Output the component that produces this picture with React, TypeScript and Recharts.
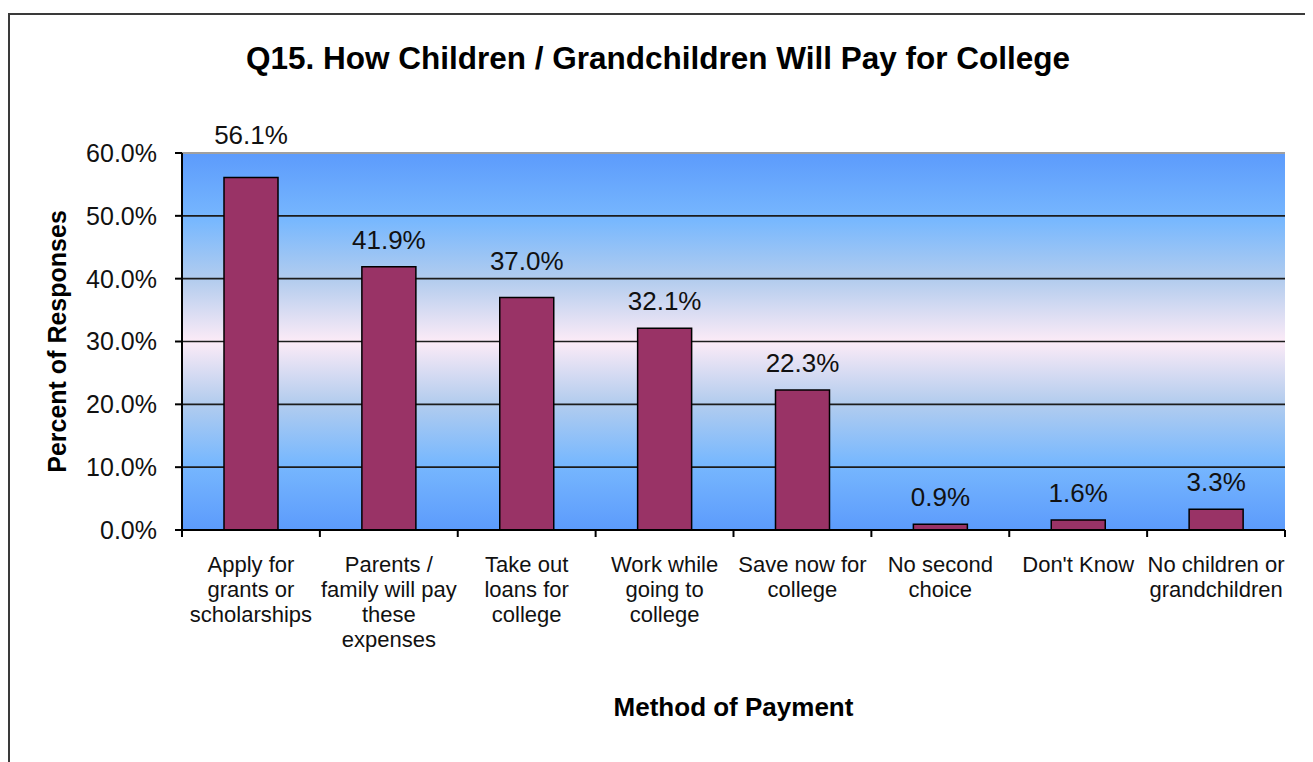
import React from 'react';
import { BarChart, Bar, XAxis, YAxis, CartesianGrid, LabelList, ReferenceLine } from 'recharts';

const categories: string[] = [
  'Apply for\ngrants or\nscholarships',
  'Parents /\nfamily will pay\nthese\nexpenses',
  'Take out\nloans for\ncollege',
  'Work while\ngoing to\ncollege',
  'Save now for\ncollege',
  'No second\nchoice',
  "Don't Know",
  'No children or\ngrandchildren',
];
const values: number[] = [56.1, 41.9, 37.0, 32.1, 22.3, 0.9, 1.6, 3.3];
const yTicks: number[] = [0, 10, 20, 30, 40, 50, 60];

const data = categories.map((c, i) => ({ name: c, value: values[i] }));

const FONT = '"Liberation Sans", Arial, Helvetica, sans-serif';
const W = 1300;
const H = 740;
const MARGIN = { top: 138, right: 25, bottom: 0, left: 0 };
const Y_AXIS_W = 172;
const X_AXIS_H = 225;
const Y_MAX = 60;
const PLOT_W = W - MARGIN.left - MARGIN.right - Y_AXIS_W;
const PLOT_H = H - MARGIN.top - MARGIN.bottom - X_AXIS_H;
const HALF_BAND = PLOT_W / categories.length / 2;
const PLOT_TOP = MARGIN.top;

const XTick = (props: any) => {
  const { x, y, payload, index } = props;
  const lines = String(payload.value).split('\n');
  const last = index === categories.length - 1;
  return (
    <g>
      <line x1={x - HALF_BAND} x2={x - HALF_BAND} y1={y} y2={y + 7} stroke="#000" strokeWidth={2} />
      {last && <line x1={x + HALF_BAND} x2={x + HALF_BAND} y1={y} y2={y + 7} stroke="#000" strokeWidth={2} />}
      <text x={x} y={y + 42} textAnchor="middle" fontSize={22} fill="#111" fontFamily={FONT}>
        {lines.map((l, i) => (
          <tspan key={i} x={x} dy={i === 0 ? 0 : 25}>
            {l}
          </tspan>
        ))}
      </text>
    </g>
  );
};

// Place label above bar; if it would cross a gridline, lift it above that gridline.
const ValueLabel = (props: any) => {
  const { x, y, width, value } = props;
  let base = y - 18;
  for (const t of yTicks) {
    const g = PLOT_TOP + PLOT_H * (1 - t / Y_MAX);
    if (base - 19 < g + 2 && base > g - 2) {
      base = g - 9;
      break;
    }
  }
  return (
    <text x={x + width / 2} y={base} textAnchor="middle" fontSize={26} fill="#111" fontFamily={FONT}>
      {Number(value).toFixed(1) + '%'}
    </text>
  );
};

const YLabel = (props: any) => {
  const vb = props.viewBox || {};
  const cx = 47;
  const cy = vb.y + vb.height / 2;
  return (
    <text
      x={cx}
      y={cy}
      transform={`rotate(-90, ${cx}, ${cy})`}
      textAnchor="middle"
      dominantBaseline="central"
      fontSize={25}
      fontWeight="bold"
      fill="#000"
      fontFamily={FONT}
    >
      Percent of Responses
    </text>
  );
};

const XLabel = (props: any) => {
  const vb = props.viewBox || {};
  const cx = vb.x + vb.width / 2;
  return (
    <text x={cx} y={vb.y + 186} textAnchor="middle" fontSize={26} fontWeight="bold" fill="#000" fontFamily={FONT}>
      Method of Payment
    </text>
  );
};

export default function App() {
  return (
    <div
      style={{
        position: 'relative',
        marginTop: 5,
        width: W,
        height: H + 10,
        borderLeft: '2px solid #3a3a3a',
        borderTop: '2px solid #3a3a3a',
        background: '#fff',
        fontFamily: FONT,
      }}
    >
      <style>{'html,body{overflow:hidden}'}</style>
      <div
        style={{
          position: 'absolute',
          top: 28,
          left: 0,
          width: 1296,
          textAlign: 'center',
          fontSize: 31.5,
          lineHeight: '31px',
          fontWeight: 'bold',
          color: '#000',
        }}
      >
        Q15. How Children / Grandchildren Will Pay for College
      </div>
      <BarChart width={W} height={H} data={data} margin={MARGIN} barSize={54}>
        <defs>
          <linearGradient id="plotBg" x1="0" y1="0" x2="0" y2="1">
            <stop offset="0" stopColor="#5c9bfc" />
            <stop offset="0.18" stopColor="#78b8fe" />
            <stop offset="0.34" stopColor="#b4cdee" />
            <stop offset="0.5" stopColor="#fcebf7" />
            <stop offset="0.66" stopColor="#b4cdee" />
            <stop offset="0.82" stopColor="#78b8fe" />
            <stop offset="1" stopColor="#5c9bfc" />
          </linearGradient>
        </defs>
        <CartesianGrid
          vertical={false}
          stroke="#1c1c1c"
          strokeWidth={1.6}
          fill="url(#plotBg)"
          fillOpacity={1}
        />
        <XAxis
          dataKey="name"
          type="category"
          height={X_AXIS_H}
          interval={0}
          tickLine={false}
          tickSize={0}
          tickMargin={0}
          axisLine={{ stroke: '#000', strokeWidth: 2 }}
          tick={<XTick />}
          label={<XLabel />}
        />
        <YAxis
          width={Y_AXIS_W}
          domain={[0, Y_MAX]}
          ticks={yTicks}
          interval={0}
          tickFormatter={(v: number) => v.toFixed(1) + '%'}
          tick={{ fontSize: 25, fill: '#111', fontFamily: FONT }}
          tickSize={7}
          tickMargin={18}
          tickLine={{ stroke: '#000', strokeWidth: 2 }}
          axisLine={{ stroke: '#000', strokeWidth: 2 }}
          label={<YLabel />}
        />
        <YAxis
          yAxisId="right"
          orientation="right"
          width={0}
          tick={false}
          tickLine={false}
          axisLine={{ stroke: '#a0a0a0', strokeWidth: 2 }}
        />
        <ReferenceLine y={Y_MAX} stroke="#a0a0a0" strokeWidth={2} />
        <Bar dataKey="value" fill="#993366" stroke="#000" strokeWidth={1.5} isAnimationActive={false}>
          <LabelList dataKey="value" content={<ValueLabel />} />
        </Bar>
      </BarChart>
    </div>
  );
}
